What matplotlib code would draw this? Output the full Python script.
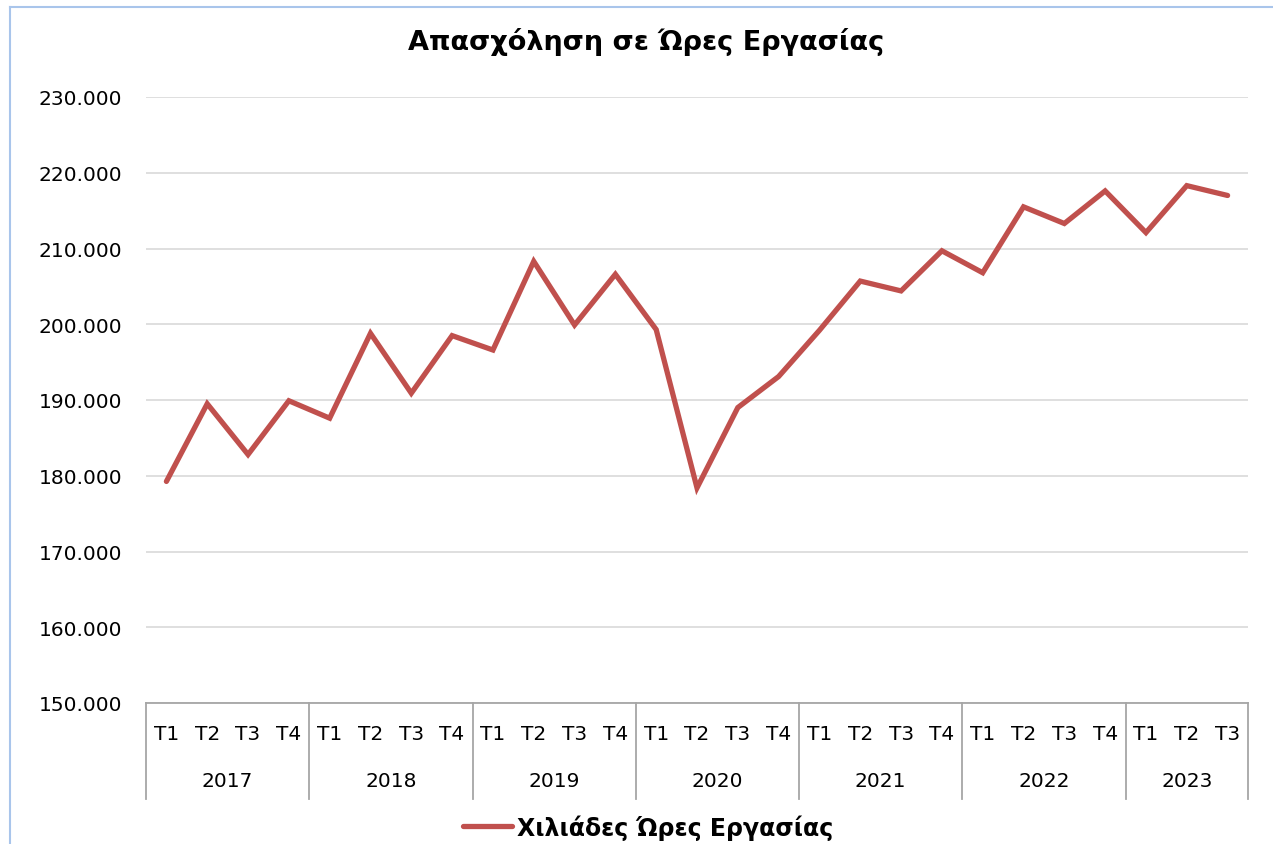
import numpy as np
import matplotlib.pyplot as plt
from matplotlib.lines import Line2D
import matplotlib.transforms as mtransforms

plt.rcParams['font.family'] = ['DejaVu Sans']

years = ['2017', '2018', '2019', '2020', '2021', '2022', '2023']
quarters = ['T1', 'T2', 'T3', 'T4'] * 6 + ['T1', 'T2', 'T3']
# thousand hours worked, per quarter
hours = [179250, 189500, 182800, 189900,
         187600, 198800, 190900, 198500,
         196600, 208300, 199900, 206600,
         199300, 178400, 189000, 193100,
         199200, 205700, 204400, 209700,
         206800, 215500, 213300, 217600,
         212100, 218300, 217000]

W, H = 1273, 845
fig = plt.figure(figsize=(W / 100, H / 100), dpi=100)
ax = fig.add_axes([146 / W, 1 - 704 / H, (1248 - 146) / W, (704 - 98) / H])

x = np.arange(len(hours))
ax.plot(x, hours, color='#C0504D', lw=3.8, solid_joinstyle='miter', solid_capstyle='round', zorder=3,
        label='Χιλιάδες Ώρες Εργασίας')

ax.set_xlim(-0.5, len(hours) - 0.5)
ax.set_ylim(150000, 230000)
yt = np.arange(150000, 230001, 10000)
ax.set_yticks(yt)
ax.set_yticklabels(['{:,.0f}'.format(v).replace(',', '.') for v in yt], fontsize=14.5)
ax.tick_params(axis='y', length=0, pad=17, colors='#000000')
ax.grid(axis='y', color='#D9D9D9', lw=1.2)
ax.set_axisbelow(True)
ax.set_xticks([])
for s in ['top', 'right', 'left']:
    ax.spines[s].set_visible(False)
ax.spines['bottom'].set_color('#A6A6A6')
ax.spines['bottom'].set_linewidth(1.3)

trans = mtransforms.blended_transform_factory(ax.transData, ax.transAxes)
h_ax = 704 - 98
for i, q in enumerate(quarters):
    ax.text(i, -31 / h_ax, q, transform=trans, ha='center', va='center', fontsize=14.5)
# year labels and separators
bounds = list(range(0, len(hours), 4)) + [len(hours)]
for k, yr in enumerate(years):
    mid = (bounds[k] + bounds[k + 1]) / 2 - 0.5
    ax.text(mid, -78 / h_ax, yr, transform=trans, ha='center', va='center', fontsize=14.5)
for b in bounds:
    ax.add_line(Line2D([b - 0.5, b - 0.5], [0, -96 / h_ax], transform=trans, color='#A6A6A6',
                       lw=1.3, clip_on=False))

fig.text(646 / W, 1 - 42 / H, 'Απασχόληση σε Ώρες Εργασίας', ha='center', va='center',
         fontsize=19.5, fontweight='bold')

fig.legend(loc='center', bbox_to_anchor=(648 / W, 1 - 828 / H), frameon=False,
           prop={'size': 17, 'weight': 'bold'}, handlelength=2.1, handletextpad=0.2)

# frame of the chart area
fig.add_artist(Line2D([10 / W, 10 / W], [0, 1 - 8 / H], color='#A9C5EB', lw=1.5))
fig.add_artist(Line2D([10 / W, 1], [1 - 8 / H, 1 - 8 / H], color='#A9C5EB', lw=1.5))

fig.savefig('out.png', dpi=100)
